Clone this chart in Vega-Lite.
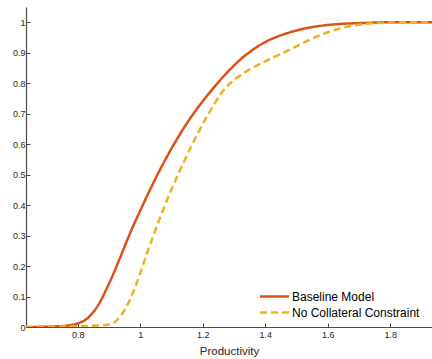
{
  "$schema": "https://vega.github.io/schema/vega-lite/v6.json",
  "autosize": "none",
  "width": 406,
  "height": 320,
  "padding": {"left": 26, "top": 7, "right": 0, "bottom": 32},
  "background": "white",
  "config": {
    "view": {"stroke": null},
    "font": "Liberation Sans",
    "axis": {"grid": false, "domainColor": "#4a4a4a", "tickColor": "#4a4a4a", "labelColor": "#262626", "titleColor": "#262626", "labelFont": "Liberation Sans", "titleFont": "Liberation Sans", "titleFontWeight": "normal"}
  },
  "data": {"values": [
    {"x": 0.634, "y": 0, "series": "Baseline Model"},
    {"x": 0.70, "y": 0.001, "series": "Baseline Model"},
    {"x": 0.75, "y": 0.003, "series": "Baseline Model"},
    {"x": 0.78, "y": 0.007, "series": "Baseline Model"},
    {"x": 0.806, "y": 0.014, "series": "Baseline Model"},
    {"x": 0.83, "y": 0.028, "series": "Baseline Model"},
    {"x": 0.848, "y": 0.047, "series": "Baseline Model"},
    {"x": 0.87, "y": 0.08, "series": "Baseline Model"},
    {"x": 0.891, "y": 0.123, "series": "Baseline Model"},
    {"x": 0.912, "y": 0.170, "series": "Baseline Model"},
    {"x": 0.934, "y": 0.224, "series": "Baseline Model"},
    {"x": 0.96, "y": 0.290, "series": "Baseline Model"},
    {"x": 0.98, "y": 0.338, "series": "Baseline Model"},
    {"x": 1.0, "y": 0.382, "series": "Baseline Model"},
    {"x": 1.02, "y": 0.427, "series": "Baseline Model"},
    {"x": 1.04, "y": 0.469, "series": "Baseline Model"},
    {"x": 1.06, "y": 0.510, "series": "Baseline Model"},
    {"x": 1.08, "y": 0.549, "series": "Baseline Model"},
    {"x": 1.10, "y": 0.586, "series": "Baseline Model"},
    {"x": 1.12, "y": 0.621, "series": "Baseline Model"},
    {"x": 1.14, "y": 0.654, "series": "Baseline Model"},
    {"x": 1.16, "y": 0.685, "series": "Baseline Model"},
    {"x": 1.18, "y": 0.714, "series": "Baseline Model"},
    {"x": 1.20, "y": 0.741, "series": "Baseline Model"},
    {"x": 1.225, "y": 0.773, "series": "Baseline Model"},
    {"x": 1.25, "y": 0.803, "series": "Baseline Model"},
    {"x": 1.275, "y": 0.832, "series": "Baseline Model"},
    {"x": 1.30, "y": 0.858, "series": "Baseline Model"},
    {"x": 1.325, "y": 0.882, "series": "Baseline Model"},
    {"x": 1.35, "y": 0.902, "series": "Baseline Model"},
    {"x": 1.375, "y": 0.920, "series": "Baseline Model"},
    {"x": 1.40, "y": 0.935, "series": "Baseline Model"},
    {"x": 1.45, "y": 0.957, "series": "Baseline Model"},
    {"x": 1.50, "y": 0.973, "series": "Baseline Model"},
    {"x": 1.55, "y": 0.984, "series": "Baseline Model"},
    {"x": 1.60, "y": 0.991, "series": "Baseline Model"},
    {"x": 1.65, "y": 0.995, "series": "Baseline Model"},
    {"x": 1.70, "y": 0.997, "series": "Baseline Model"},
    {"x": 1.75, "y": 0.999, "series": "Baseline Model"},
    {"x": 1.80, "y": 1.0, "series": "Baseline Model"},
    {"x": 1.934, "y": 1.0, "series": "Baseline Model"},
    {"x": 0.634, "y": 0, "series": "No Collateral Constraint"},
    {"x": 0.75, "y": 0.002, "series": "No Collateral Constraint"},
    {"x": 0.85, "y": 0.004, "series": "No Collateral Constraint"},
    {"x": 0.90, "y": 0.008, "series": "No Collateral Constraint"},
    {"x": 0.92, "y": 0.018, "series": "No Collateral Constraint"},
    {"x": 0.94, "y": 0.040, "series": "No Collateral Constraint"},
    {"x": 0.96, "y": 0.075, "series": "No Collateral Constraint"},
    {"x": 0.98, "y": 0.122, "series": "No Collateral Constraint"},
    {"x": 1.00, "y": 0.177, "series": "No Collateral Constraint"},
    {"x": 1.02, "y": 0.238, "series": "No Collateral Constraint"},
    {"x": 1.04, "y": 0.295, "series": "No Collateral Constraint"},
    {"x": 1.06, "y": 0.350, "series": "No Collateral Constraint"},
    {"x": 1.08, "y": 0.402, "series": "No Collateral Constraint"},
    {"x": 1.10, "y": 0.452, "series": "No Collateral Constraint"},
    {"x": 1.12, "y": 0.498, "series": "No Collateral Constraint"},
    {"x": 1.14, "y": 0.543, "series": "No Collateral Constraint"},
    {"x": 1.16, "y": 0.586, "series": "No Collateral Constraint"},
    {"x": 1.18, "y": 0.627, "series": "No Collateral Constraint"},
    {"x": 1.20, "y": 0.666, "series": "No Collateral Constraint"},
    {"x": 1.22, "y": 0.703, "series": "No Collateral Constraint"},
    {"x": 1.24, "y": 0.737, "series": "No Collateral Constraint"},
    {"x": 1.26, "y": 0.768, "series": "No Collateral Constraint"},
    {"x": 1.28, "y": 0.792, "series": "No Collateral Constraint"},
    {"x": 1.30, "y": 0.810, "series": "No Collateral Constraint"},
    {"x": 1.32, "y": 0.825, "series": "No Collateral Constraint"},
    {"x": 1.35, "y": 0.845, "series": "No Collateral Constraint"},
    {"x": 1.40, "y": 0.872, "series": "No Collateral Constraint"},
    {"x": 1.45, "y": 0.896, "series": "No Collateral Constraint"},
    {"x": 1.50, "y": 0.921, "series": "No Collateral Constraint"},
    {"x": 1.55, "y": 0.946, "series": "No Collateral Constraint"},
    {"x": 1.60, "y": 0.967, "series": "No Collateral Constraint"},
    {"x": 1.65, "y": 0.983, "series": "No Collateral Constraint"},
    {"x": 1.70, "y": 0.992, "series": "No Collateral Constraint"},
    {"x": 1.75, "y": 0.997, "series": "No Collateral Constraint"},
    {"x": 1.80, "y": 0.999, "series": "No Collateral Constraint"},
    {"x": 1.85, "y": 1.0, "series": "No Collateral Constraint"},
    {"x": 1.934, "y": 1.0, "series": "No Collateral Constraint"}
  ]},
  "mark": {"type": "line", "strokeWidth": 2.5, "interpolate": "monotone", "clip": true},
  "encoding": {
    "x": {"field": "x", "type": "quantitative", "scale": {"domain": [0.634, 1.934], "nice": false, "zero": false},
      "axis": {"values": [0.8, 1, 1.2, 1.4, 1.6, 1.8], "format": "~g", "title": "Productivity", "titleFontSize": 11.5, "titlePadding": 6, "labelFontSize": 9, "tickSize": -4, "labelPadding": 7, "domainWidth": 1.2}},
    "y": {"field": "y", "type": "quantitative", "scale": {"domain": [0, 1.05], "nice": false},
      "axis": {"values": [0, 0.1, 0.2, 0.3, 0.4, 0.5, 0.6, 0.7, 0.8, 0.9, 1], "format": "~g", "title": null, "labelFontSize": 9, "tickSize": -4, "labelPadding": 5, "domainWidth": 1.2}},
    "color": {"field": "series", "type": "nominal", "scale": {"domain": ["Baseline Model", "No Collateral Constraint"], "range": ["#D95319", "#EDB120"]},
      "legend": {"title": null, "orient": "none", "legendX": 252, "legendY": 283, "symbolType": "M-4.9,0L0.9,0", "symbolSize": 100, "symbolStrokeWidth": 2.5, "labelFontSize": 12, "labelColor": "#000000", "labelFont": "Liberation Sans", "rowPadding": 3, "labelOffset": 1}},
    "strokeDash": {"field": "series", "type": "nominal", "scale": {"domain": ["Baseline Model", "No Collateral Constraint"], "range": [[1, 0], [7, 4]]},
      "legend": {"title": null, "orient": "none", "legendX": 252, "legendY": 283, "symbolType": "M-4.9,0L0.9,0", "symbolSize": 100, "symbolStrokeWidth": 2.5, "labelFontSize": 12, "labelColor": "#000000", "labelFont": "Liberation Sans", "rowPadding": 3, "labelOffset": 1}}
  }
}
